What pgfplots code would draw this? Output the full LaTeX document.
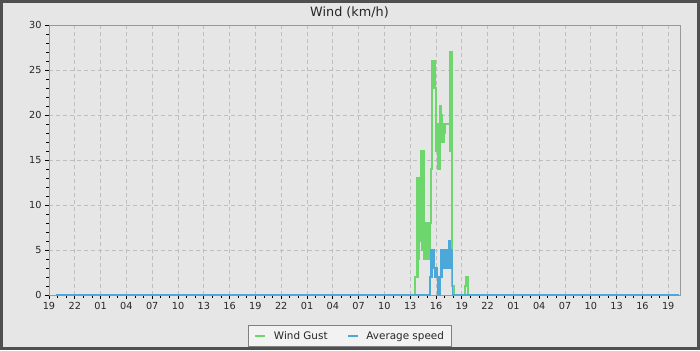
\documentclass[border=0pt]{standalone}
\usepackage{fontspec}
\setmainfont{DejaVu Sans}
\usepackage{pgfplots}
\pgfplotsset{compat=1.18}
\definecolor{bggray}{HTML}{E6E6E6}
\definecolor{framegray}{HTML}{505050}
\definecolor{gustgreen}{HTML}{6DD66D}
\definecolor{avgblue}{HTML}{4DA8DA}
\definecolor{gridgray}{HTML}{BEBEBE}
\definecolor{axisgray}{HTML}{999999}
\definecolor{legfill}{HTML}{F2F2F2}

\pgfplotstableread{
h v
0.8 0
42.55 2
42.72 13
42.80 2
42.88 13
42.96 4
43.04 13
43.12 6
43.22 16
43.30 5
43.38 16
43.46 8
43.54 16
43.62 4
43.72 8
43.80 5
43.88 8
43.96 4
44.04 8
44.12 5
44.20 8
44.28 4
44.36 8
44.44 14
44.50 26
44.58 23
44.66 26
44.74 23
44.82 26
44.90 23
44.98 16
45.10 19
45.18 14
45.26 16
45.34 19
45.42 14
45.50 21
45.60 20
45.70 17
45.78 19
45.86 17
45.94 18
46.02 19
46.20 19
46.40 19
46.58 27
46.64 16
46.70 27
46.76 16
46.82 27
46.90 1
47.05 0
48.35 1
48.50 2
48.70 0
73.2 0
}\gust

\pgfplotstableread{
h v
0.8 0
44.30 2
44.42 5
44.50 2
44.58 5
44.66 3
44.74 5
44.82 2
44.92 3
45.00 2
45.10 3
45.18 0
45.26 2
45.34 0
45.42 2
45.52 5
45.60 2
45.68 5
45.78 3
45.86 4
45.96 3
46.04 5
46.12 3
46.20 5
46.28 3
46.36 5
46.44 3
46.52 6
46.60 3
46.68 5
46.76 3
46.84 5
46.92 0
73.2 0
}\avg

\begin{document}
\begin{tikzpicture}[x=1bp,y=1bp]
\useasboundingbox (-49,-55) rectangle (651,295);
\fill[bggray] (-49,-55) rectangle (651,295);
\draw[framegray, line width=3bp] (-47.5,-53.5) rectangle (649.5,293.5);
\node[font=\fontsize{12.8bp}{15bp}\selectfont, text=black!85] at (300.5,283) {Wind (km/h)};
\begin{axis}[
  at={(0,0)}, anchor=south west,
  scale only axis, width=631bp, height=270bp,
  xmin=0, xmax=73.37, ymin=0, ymax=30,
  axis background/.style={fill=bggray},
  axis line style={axisgray, line width=0.8bp},
  xtick={0,3,...,72},
  xticklabels={19,22,01,04,07,10,13,16,19,22,01,04,07,10,13,16,19,22,01,04,07,10,13,16,19},
  ytick={0,5,...,30},
  minor x tick num=2, minor y tick num=4,
  xtick pos=bottom, ytick pos=left,
  tick align=outside, major tick length=4bp, minor tick length=3bp,
  every tick/.style={black, line width=0.8bp},
  grid=major,
  major grid style={gridgray, dash pattern=on 4bp off 3bp, line width=0.8bp},
  ticklabel style={font=\fontsize{9.7bp}{11bp}\selectfont, text=black!85},
  /pgf/number format/assume math mode=true,
  legend style={at={(axis description cs:0.4770,-0.1519)}, anchor=center,
    legend columns=2, draw=gray, fill=legfill, line width=0.8bp,
    font=\fontsize{10.4bp}{12.5bp}\selectfont, text=black!85,
    inner xsep=5.5bp, inner ysep=3.5bp,
    /tikz/every even column/.append style={column sep=17bp}},
  legend image code/.code={\draw[#1, line width=2bp] (0bp,0bp) -- (10bp,0bp); \path (16bp,0bp);},
]
\addplot[gustgreen, line width=1.8bp, const plot] table[x=h, y=v] {\gust};
\addlegendentry{Wind Gust}
\addplot[avgblue, line width=1.8bp, const plot] table[x=h, y=v] {\avg};
\addlegendentry{Average speed}
\end{axis}
\end{tikzpicture}
\end{document}
